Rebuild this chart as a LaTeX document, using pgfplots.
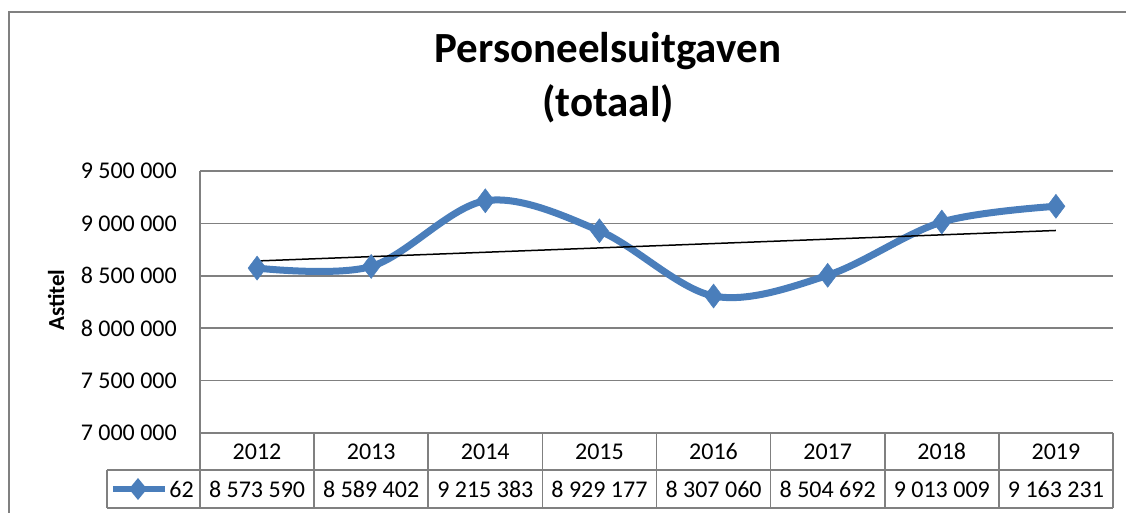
\documentclass[border=0pt]{standalone}
\usepackage{pgfplots}
\pgfplotsset{compat=1.18}
\usepackage{fontspec}
\setmainfont{Carlito}
\definecolor{serieblue}{HTML}{4A7EBB}
\definecolor{gridgray}{HTML}{808080}
\begin{document}
\begin{tikzpicture}[x=1pt,y=1pt]
\useasboundingbox (0,0) rectangle (1126,513);
\clip (0,0) rectangle (1126,513);
% outer chart border (cut at right and bottom)
\draw[gridgray, line width=1.5pt] (9,-10) -- (9,501) -- (1140,501);
% title
\node[font=\fontsize{43}{50}\selectfont\bfseries] at (608,462) {Personeelsuitgaven};
\node[font=\fontsize{43}{50}\selectfont\bfseries] at (608,409) {(totaal)};
% y label
\node[font=\fontsize{23}{26}\selectfont\bfseries, rotate=90] at (56,213) {Astitel};
\begin{axis}[
  at={(200pt,80pt)}, anchor=south west,
  scale only axis, width=913pt, height=262pt,
  xmin=-0.5, xmax=7.5, ymin=7000000, ymax=9500000,
  clip=false,
  axis line style={draw=none},
  xtick=\empty,
  ytick={7000000,7500000,8000000,8500000,9000000,9500000},
  yticklabels={7 000 000,7 500 000,8 000 000,8 500 000,9 000 000,9 500 000},
  yticklabel style={font=\fontsize{24}{24}\selectfont, anchor=east, inner sep=0pt, xshift=-23pt},
  major tick length=0pt,
  ymajorgrids, grid style={gridgray, line width=1.6pt},
  scaled y ticks=false,
]
% left axis line and data table
\draw[gridgray, line width=1.6pt] (axis cs:-0.5,9500000) -- (axis cs:-0.5,7000000) -- ++(0pt,-75pt);
\draw[gridgray, line width=1.6pt] (axis cs:-0.5,7000000) -- (axis cs:7.5,7000000);
\draw[gridgray, line width=1.6pt] (axis cs:-1.315,7000000) ++(0pt,-37pt) -- ++(1006pt,0pt);
\draw[gridgray, line width=1.6pt] (axis cs:-1.315,7000000) ++(0pt,-75pt) -- ++(1006pt,0pt);
\draw[gridgray, line width=1.6pt] (axis cs:-1.315,7000000) ++(0pt,-37pt) -- ++(0pt,-38pt);
\draw[gridgray, line width=1.6pt] (axis cs:0.5,7000000) -- ++(0pt,-75pt);
\draw[gridgray, line width=1.6pt] (axis cs:1.5,7000000) -- ++(0pt,-75pt);
\draw[gridgray, line width=1.6pt] (axis cs:2.5,7000000) -- ++(0pt,-75pt);
\draw[gridgray, line width=1.6pt] (axis cs:3.5,7000000) -- ++(0pt,-75pt);
\draw[gridgray, line width=1.6pt] (axis cs:4.5,7000000) -- ++(0pt,-75pt);
\draw[gridgray, line width=1.6pt] (axis cs:5.5,7000000) -- ++(0pt,-75pt);
\draw[gridgray, line width=1.6pt] (axis cs:6.5,7000000) -- ++(0pt,-75pt);
\draw[gridgray, line width=1.6pt] (axis cs:7.5,7000000) -- ++(0pt,-75pt);
% table text
\begin{scope}[every node/.style={font=\fontsize{24}{24}\selectfont, inner sep=0pt, anchor=base}]
\node at (axis cs:0,7000000) [yshift=-27pt] {2012};
\node at (axis cs:1,7000000) [yshift=-27pt] {2013};
\node at (axis cs:2,7000000) [yshift=-27pt] {2014};
\node at (axis cs:3,7000000) [yshift=-27pt] {2015};
\node at (axis cs:4,7000000) [yshift=-27pt] {2016};
\node at (axis cs:5,7000000) [yshift=-27pt] {2017};
\node at (axis cs:6,7000000) [yshift=-27pt] {2018};
\node at (axis cs:7,7000000) [yshift=-27pt] {2019};
\node at (axis cs:0,7000000) [yshift=-64pt] {8 573 590};
\node at (axis cs:1,7000000) [yshift=-64pt] {8 589 402};
\node at (axis cs:2,7000000) [yshift=-64pt] {9 215 383};
\node at (axis cs:3,7000000) [yshift=-64pt] {8 929 177};
\node at (axis cs:4,7000000) [yshift=-64pt] {8 307 060};
\node at (axis cs:5,7000000) [yshift=-64pt] {8 504 692};
\node at (axis cs:6,7000000) [yshift=-64pt] {9 013 009};
\node at (axis cs:7,7000000) [yshift=-64pt] {9 163 231};
\node[anchor=base east] at (axis cs:-0.5,7000000) [xshift=-6pt, yshift=-64pt] {62};
\end{scope}
% legend key
\draw[serieblue, line width=6pt] (axis cs:-1.315,7000000) ++(6pt,-56pt) -- ++(52pt,0pt);
\fill[serieblue] (axis cs:-1.315,7000000) ++(31pt,-56pt) ++(0pt,11pt) -- ++(9pt,-11pt) -- ++(-9pt,-11pt) -- ++(-9pt,11pt) -- cycle;
% series
\addplot[serieblue, line width=7pt, smooth, tension=0.55, mark=diamond*, mark size=12pt,
  mark options={solid, fill=serieblue, draw=serieblue, line width=0.5pt}]
  coordinates {(0,8573590) (1,8589402) (2,9215383) (3,8929177) (4,8307060) (5,8504692) (6,9013009) (7,9163231)};
% linear trendline
\addplot[black, line width=1.5pt] coordinates {(0,8641471) (7,8932416)};
\end{axis}
\end{tikzpicture}
\end{document}
